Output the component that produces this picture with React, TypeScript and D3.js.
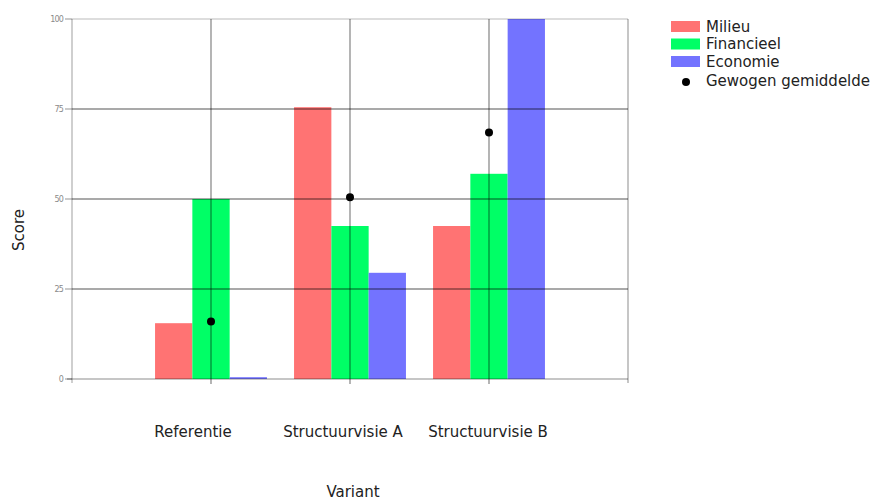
import React from "react";
import * as d3 from "d3";

const categories = ["Referentie", "Structuurvisie A", "Structuurvisie B"];
const seriesNames = ["Milieu", "Financieel", "Economie"];
const milieu = [15.5, 75.5, 42.5];
const financieel = [50, 42.5, 57];
const economie = [0.5, 29.5, 100];
const gewogen = [16, 50.5, 68.5];
const yTicks = [0, 25, 50, 75, 100];
const colors = ["#ff7373", "#00ff66", "#7373ff"];

const W = 876, H = 502;
const left = 72, right = 628, top = 19, bottom = 379;
const labelShift = [-18, -7, -1];

export default function App() {
  const x = d3.scaleLinear().domain([0, categories.length + 1]).range([left, right]);
  const y = d3.scaleLinear().domain([0, 100]).range([bottom, top]);
  const series = [milieu, financieel, economie];
  const barW = 37.3;
  const font = "'DejaVu Sans', sans-serif";
  return (
    <svg width={W} height={H} style={{ position: "absolute", left: 0, top: 0, background: "#fff" }}>
      {categories.map((c, i) =>
        series.map((s, j) => {
          const cx = x(i + 1);
          const x0 = cx - 1.5 * barW + j * barW;
          return (
            <rect key={c + j} x={x0} y={y(s[i])} width={barW} height={y(0) - y(s[i])} fill={colors[j]} />
          );
        })
      )}
      {yTicks.filter((t) => t > 0 && t < 100).map((t) => (
        <line key={t} x1={left} x2={right} y1={y(t)} y2={y(t)} stroke="#000" strokeOpacity={0.45} strokeWidth={1.3} />
      ))}
      <line x1={left} x2={right} y1={y(100)} y2={y(100)} stroke="#000" strokeOpacity={0.18} strokeWidth={1.3} />
      {categories.map((c, i) => (
        <line key={c} x1={x(i + 1)} x2={x(i + 1)} y1={top} y2={bottom + 5} stroke="#000" strokeOpacity={0.45} strokeWidth={1.3} />
      ))}
      <line x1={left} x2={left} y1={top} y2={bottom + 4} stroke="#000" strokeOpacity={0.25} strokeWidth={1.5} />
      <line x1={right} x2={right} y1={top} y2={bottom + 4} stroke="#000" strokeOpacity={0.3} strokeWidth={1.5} />
      <line x1={left - 5} x2={right} y1={y(0)} y2={y(0)} stroke="#000" strokeOpacity={0.3} strokeWidth={1.5} />
      {yTicks.map((t) => (
        <g key={t}>
          <line x1={left - 7} x2={left} y1={y(t)} y2={y(t)} stroke="#000" strokeOpacity={0.35} strokeWidth={1.2} />
          <text x={left - 9} y={y(t)} dy="0.32em" textAnchor="end" fontSize={8} fontFamily={font} fill="#8a8a8a" letterSpacing={-0.8}>
            {t}
          </text>
        </g>
      ))}
      {gewogen.map((g, i) => (
        <circle key={i} cx={x(i + 1)} cy={y(g)} r={4} fill="#000" />
      ))}
      {categories.map((c, i) => (
        <text key={c} x={x(i + 1) + labelShift[i]} y={437} textAnchor="middle" fontSize={15} fontFamily={font} fill="#222">
          {c}
        </text>
      ))}
      <text x={353} y={497} textAnchor="middle" fontSize={15} fontFamily={font} fill="#222">Variant</text>
      <text transform="translate(24,230) rotate(-90)" textAnchor="middle" fontSize={15} fontFamily={font} fill="#222">Score</text>
      {seriesNames.map((n, j) => (
        <g key={n}>
          <rect x={671} y={21 + j * 17.5} width={29} height={11} fill={colors[j]} />
          <text x={706} y={31.5 + j * 17.5} fontSize={15} fontFamily={font} fill="#222">{n}</text>
        </g>
      ))}
      <circle cx={686} cy={82} r={4} fill="#000" />
      <text x={706} y={86} fontSize={15} fontFamily={font} fill="#222">Gewogen gemiddelde</text>
    </svg>
  );
}
